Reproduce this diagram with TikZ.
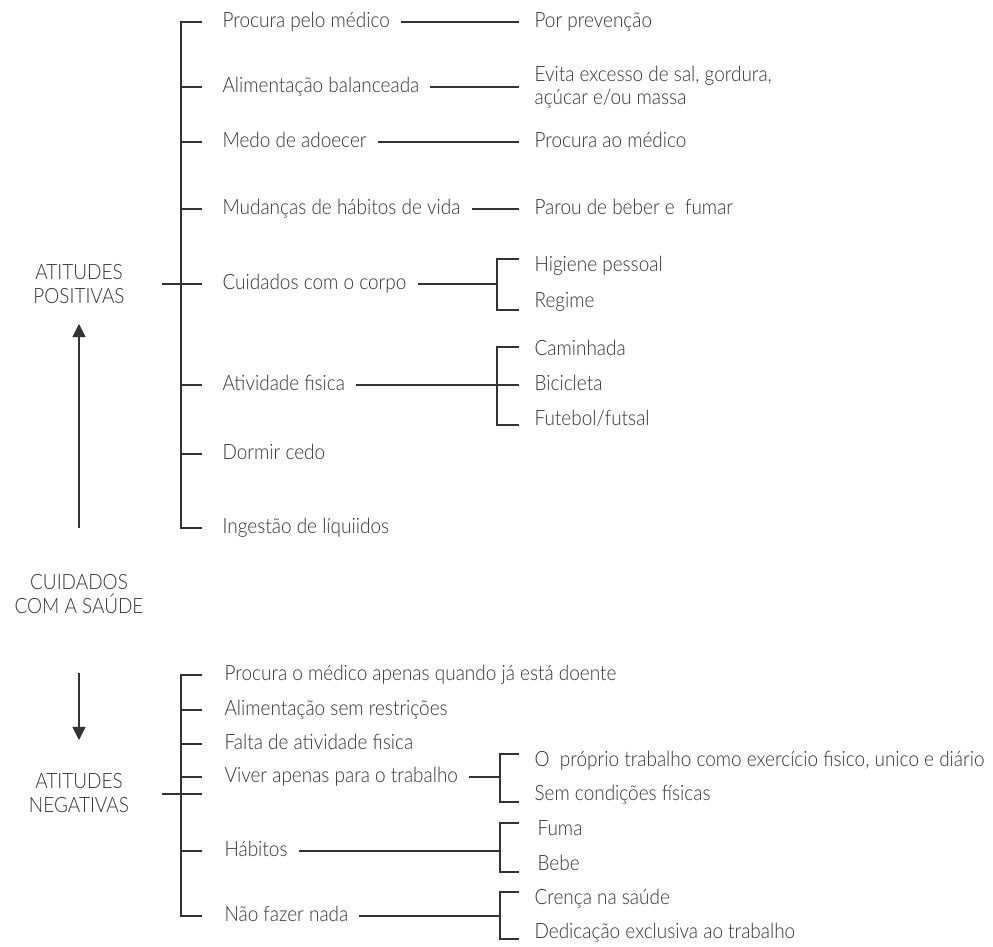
\documentclass[tikz,border=0pt]{standalone}
\usepackage{fontspec}
\setmainfont{Lato Light}[FakeStretch=0.9]
\usetikzlibrary{arrows.meta}

\begin{document}
\begin{tikzpicture}[x=0.02cm, y=-0.02cm, line width=0.65pt, color=black!80,
        font=\fontsize{12}{13.6}\selectfont,
        head/.style={align=center, inner sep=0pt},
        item/.style={anchor=west, inner sep=0pt, text height=8.5pt, text depth=2.5pt},
        twoline/.style={anchor=west, inner sep=0pt, align=left, font=\fontsize{12}{12.8}\selectfont},
        gap/.style={shorten <=6pt, shorten >=8.5pt},
        tip/.style={-{Triangle[width=7.5pt, length=7.5pt]}}]
    \useasboundingbox (0,0) rectangle (993,946);

    % centre and the two sides
    \node[head] (0) at (79,284) {ATITUDES\\POSITIVAS};
    \node[head] (1) at (79,594) {CUIDADOS\\COM A SAÚDE};
    \node[head] (2) at (79,793) {ATITUDES\\NEGATIVAS};
    \path[tip] (1.center) edge[shorten <=1.32cm, shorten >=0.8cm] (0.center)
               (1.center) edge[shorten <=1.58cm, shorten >=1.06cm] (2.center);

    % positive attitudes
    \coordinate (s0) at (181,0);
    \coordinate (j0) at (162,284);
    \node[item] (p1) at (222,22) {Procura pelo médico};
    \node[item] (p2) at (222,87) {Alimentação balanceada};
    \node[item] (p3) at (222,142) {Medo de adoecer};
    \node[item] (p4) at (222,209) {Mudanças de hábitos de vida};
    \node[item] (p5) at (222,284) {Cuidados com o corpo};
    \node[item] (p6) at (222,385) {Atividade fisica};
    \node[item] (p7) at (222,454) {Dormir cedo};
    \node[item] (p8) at (222,528) {Ingestão de líquiidos};
    \draw (s0 |- p1) ++(21,0) -- (s0 |- p1) -- (s0 |- p8) -- ++(21,0);
    \draw (j0) -- ++(40,0);
    \path[draw] (s0 |- p2) -- ++(21,0) (s0 |- p3) -- ++(21,0)
                (s0 |- p4) -- ++(21,0) (s0 |- p6) -- ++(21,0)
                (s0 |- p7) -- ++(21,0);

    \node[item] (q1) at (534,22) {Por prevenção};
    \node[twoline] (q2) at (534,87) {Evita excesso de sal, gordura,\\açúcar e/ou massa};
    \node[item] (q3) at (534,142) {Procura ao médico};
    \node[item] (q4) at (534,209) {Parou de beber e \ fumar};
    \path[gap] (p1) edge (q1)
               (p2) edge (q2)
               (p3) edge (q3)
               (p4) edge (q4);

    \coordinate (k0) at (497,0);
    \node[item] (r1) at (534,266) {Higiene pessoal};
    \node[item] (r2) at (534,302) {Regime};
    \draw[shorten <=6pt] (p5) -- (p5 -| k0);
    \draw ([shift={(-15,-7)}]r1.west) -| ([shift={(-37,8)}]r2.west) -- ++(22,0);

    \node[item] (r3) at (534,350) {Caminhada};
    \node[item] (r4) at (534,385) {Bicicleta};
    \node[item] (r5) at (534,420) {Futebol/futsal};
    \path[gap] (p6) edge (r4);
    \draw ([shift={(-15,-3)}]r3.west) -| ([shift={(-37,5)}]r5.west) -- ++(22,0);

    % negative attitudes
    \coordinate (s1) at (181,0);
    \coordinate (j1) at (162,794);
    \node[item] (n1) at (224,675) {Procura o médico apenas quando já está doente};
    \node[item] (n2) at (224,710) {Alimentação sem restrições};
    \node[item] (n3) at (224,744) {Falta de atividade fisica};
    \node[item] (n4) at (224,777) {Viver apenas para o trabalho};
    \node[item] (n5) at (224,851) {Hábitos};
    \node[item] (n6) at (224,916) {Não fazer nada};
    \draw (s1 |- n1) ++(21,0) -- (s1 |- n1) -- (s1 |- n6) -- ++(21,0);
    \draw (j1) -- ++(40,0);
    \path[draw] (s1 |- n2) -- ++(21,0) (s1 |- n3) -- ++(21,0)
                (s1 |- n4) -- ++(21,0) (s1 |- n5) -- ++(21,0);

    \coordinate (k1) at (500,0);
    \node[item] (m1) at (534,761) {O \ próprio trabalho como exercício fisico, unico e diário};
    \node[item] (m2) at (534,795) {Sem condições físicas};
    \draw[shorten <=6pt] (n4) -- (n4 -| k1);
    \draw ([shift={(-15,-7)}]m1.west) -| ([shift={(-34,7)}]m2.west) -- ++(19,0);

    \node[item] (m3) at (537,830) {Fuma};
    \node[item] (m4) at (537,865) {Bebe};
    \draw[shorten <=6pt] (n5) -- (n5 -| k1);
    \draw ([shift={(-18,-7)}]m3.west) -| ([shift={(-37,7)}]m4.west) -- ++(19,0);

    \node[item] (m5) at (534,899) {Crença na saúde};
    \node[item] (m6) at (534,933) {Dedicação exclusiva ao trabalho};
    \draw[shorten <=6pt] (n6) -- (n6 -| k1);
    \draw ([shift={(-15,-7)}]m5.west) -| ([shift={(-34,6)}]m6.west) -- ++(19,0);
\end{tikzpicture}
\end{document}
